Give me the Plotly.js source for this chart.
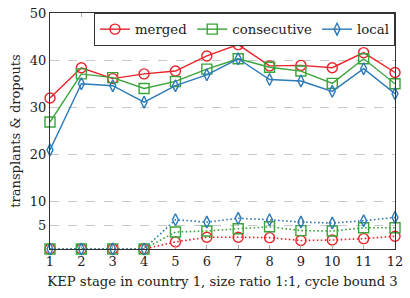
<!DOCTYPE html>
<html><head><meta charset="utf-8">
<script src="https://cdn.plot.ly/plotly-3.0.1.min.js"></script>
<style>html,body{margin:0;padding:0;background:#fff}#c{width:410px;height:298px}</style>
</head><body><div id="c"></div>
<script>
const stages = [1,2,3,4,5,6,7,8,9,10,11,12];
const mergedTx = [32.0,38.4,36.1,37.1,37.7,40.9,43.3,38.8,38.9,38.4,41.6,37.4];
const consecutiveTx = [26.9,37.1,36.3,34.0,35.5,38.1,40.3,38.5,37.7,35.1,40.3,35.0];
const localTx = [21.0,35.0,34.6,31.1,34.6,36.9,40.3,35.9,35.6,33.4,38.2,32.9];
const mergedDrop = [0,0,0,0,1.5,2.5,2.5,2.4,1.8,1.9,2.2,2.7];
const consecutiveDrop = [0,0,0,0,3.6,3.8,4.3,4.7,3.9,3.8,4.5,4.5];
const localDrop = [0,0,0,0,6.2,5.7,6.5,6.2,5.7,5.5,6.0,6.7];
const names = ['merged','consecutive','local'];
const yTicks = [5,10,20,30,40,50];

const colors = ['#e8232a','#3aa43a','#2a7ab8'];
const symbols = ['circle-open','square-open','diamond-tall-open'];
const sizes = [10,10,8.5];
const tx = [mergedTx, consecutiveTx, localTx];
const dr = [mergedDrop, consecutiveDrop, localDrop];
const font = "'DejaVu Serif', 'Liberation Serif', serif";

const traces = [];
for (let i=0;i<3;i++){
  traces.push({x:stages,y:dr[i],mode:'lines+markers',showlegend:false,cliponaxis:false,
    line:{color:colors[i],width:1.6,dash:'1.6px,2.4px'},
    marker:{symbol:symbols[i],size:sizes[i],color:colors[i],line:{width:1.4,color:colors[i]}}});
}
for (let i=0;i<3;i++){
  traces.push({x:stages,y:tx[i],name:names[i],mode:'lines+markers',cliponaxis:false,
    line:{color:colors[i],width:1.4},
    marker:{symbol:symbols[i],size:sizes[i],color:colors[i],line:{width:1.4,color:colors[i]}}});
}
const layout = {
  width:410,height:298,
  margin:{l:50,r:15,t:13,b:48.5},
  paper_bgcolor:'#fff',plot_bgcolor:'#fff',
  font:{family:font,size:13,color:'#222'},
  showlegend:true,
  legend:{orientation:'h',x:1,xanchor:'right',y:1,yanchor:'top',
    bgcolor:'#fff',bordercolor:'#333',borderwidth:1,font:{family:font,size:13.3},
    tracegroupgap:0,itemwidth:30},
  xaxis:{range:[1,12],tickvals:stages,ticktext:stages.map(String),
    showgrid:false,zeroline:false,showline:true,linecolor:'#333',linewidth:1,mirror:'ticks',
    ticks:'inside',ticklen:4,tickcolor:'#aaa',tickwidth:1,
    tickfont:{family:font,size:13},
    title:{text:'KEP stage in country 1, size ratio 1:1, cycle bound 3',font:{family:font,size:13.2},standoff:9}},
  yaxis:{range:[0,50],tickvals:yTicks,ticktext:yTicks.map(String),
    showgrid:true,gridcolor:'#c8c8c8',griddash:'dash',gridwidth:1,
    zeroline:false,showline:true,linecolor:'#333',linewidth:1,mirror:true,
    ticks:'',tickfont:{family:font,size:13},
    title:{text:'transplants &amp; dropouts',font:{family:font,size:13},standoff:6}}
};
Plotly.newPlot('c',traces,layout,{staticPlot:true,displayModeBar:false});
</script></body></html>
